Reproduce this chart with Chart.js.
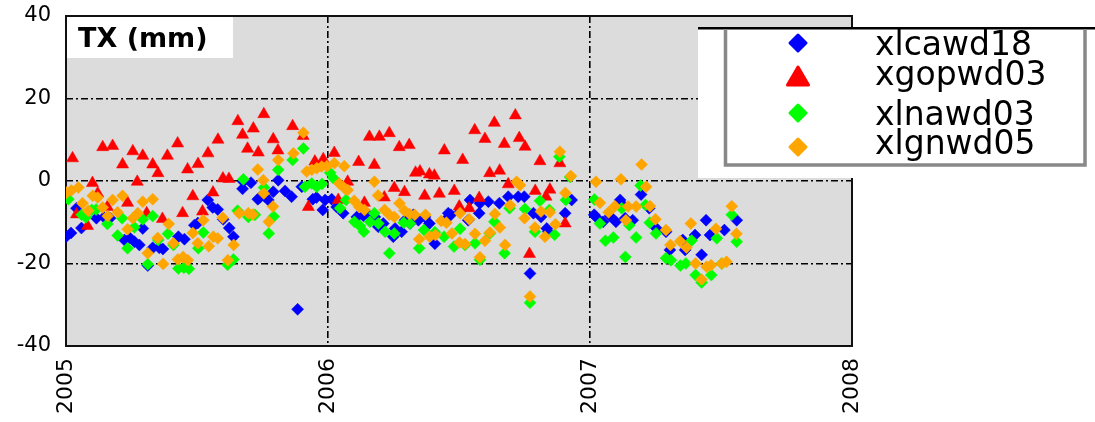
<!DOCTYPE html>
<html>
<head>
<meta charset="utf-8">
<title>TX (mm)</title>
<script src="https://cdn.jsdelivr.net/npm/chart.js@4/dist/chart.umd.min.js"></script>
<style>
  html, body { margin: 0; padding: 0; background: #ffffff; }
  canvas { display: block; }
</style>
</head>
<body>
<canvas id="tx" width="1095" height="422"></canvas>
<script>
// Station names (legend order)
const stationNames = ['xlcawd18', 'xgopwd03', 'xlnawd03', 'xlgnwd05'];

// Axis ticks
const yearTicks = [2005, 2006, 2007, 2008];
const txTicks = [40, 20, 0, -20, -40];

// xlcawd18 : epoch (decimal year) and TX (mm)
const xlcawd18Dates = [
  2005.000,2005.019,2005.040,2005.059,2005.116,2005.145,2005.168,2005.223,2005.244,2005.261,
  2005.280,2005.293,2005.312,2005.331,2005.356,2005.370,2005.429,2005.452,2005.490,2005.503,
  2005.541,2005.560,2005.579,2005.600,2005.623,2005.639,2005.674,2005.677,2005.706,2005.732,
  2005.740,2005.760,2005.772,2005.791,2005.810,2005.836,2005.861,2005.884,2005.900,2005.942,
  2005.956,2005.980,2005.989,2006.014,2006.033,2006.058,2006.110,2006.135,2006.154,2006.179,
  2006.192,2006.211,2006.249,2006.256,2006.281,2006.294,2006.313,2006.326,2006.345,2006.370,
  2006.387,2006.408,2006.447,2006.459,2006.469,2006.504,2006.535,2006.542,2006.577,2006.580,
  2006.612,2006.654,2006.688,2006.726,2006.749,2006.771,2006.784,2006.813,2006.835,2006.841,
  2006.905,2006.930,2007.016,2007.023,2007.050,2007.076,2007.099,2007.115,2007.125,2007.134,
  2007.163,2007.195,2007.226,2007.254,2007.290,2007.305,2007.354,2007.363,2007.401,2007.426,
  2007.443,2007.458,2007.513,2007.560
];
const xlcawd18Tx = [
  -13.5,-12.6,-6.6,-11.4,-9.0,-8.8,-9.0,-14.3,-13.8,-14.7,
  -15.5,-11.5,-20.5,-16.2,-16.2,-16.5,-13.5,-14.1,-10.7,-10.2,
  -4.6,-6.4,-6.9,-9.3,-11.4,-13.5,-1.9,-0.2,-0.4,-4.4,
  -4.0,-3.8,-4.6,-2.6,0.2,-2.4,-3.8,-31.1,-1.4,-4.4,
  -4.0,-7.0,-4.6,-4.4,-6.3,-7.8,-8.7,-8.4,-8.2,-8.7,
  -11.1,-10.3,-13.5,-11.5,-12.3,-9.5,-10.3,-8.2,-9.5,-8.7,
  -10.3,-15.2,-9.5,-7.8,-8.2,-7.4,-9.5,-4.6,-7.8,-5.4,
  -5.0,-5.4,-3.8,-3.8,-3.8,-22.4,-7.8,-8.7,-11.5,-12.3,
  -7.8,-4.6,-8.2,-8.7,-9.9,-8.5,-9.9,-4.6,-5.8,-9.0,
  -9.5,-3.3,-6.6,-11.5,-12.3,-16.7,-14.3,-16.7,-13.1,-17.9,
  -9.5,-13.1,-11.9,-9.5
];

// xgopwd03
const xgopwd03Dates = [
  2005.025,2005.040,2005.082,2005.101,2005.121,2005.140,2005.158,2005.178,2005.216,2005.235,
  2005.255,2005.272,2005.293,2005.308,2005.331,2005.351,2005.368,2005.387,2005.426,2005.445,
  2005.464,2005.484,2005.504,2005.521,2005.542,2005.561,2005.580,2005.599,2005.622,2005.656,
  2005.674,2005.693,2005.715,2005.734,2005.755,2005.791,2005.809,2005.865,2005.905,2005.925,
  2005.950,2005.982,2006.024,2006.039,2006.075,2006.117,2006.139,2006.158,2006.177,2006.196,
  2006.215,2006.234,2006.253,2006.272,2006.292,2006.310,2006.334,2006.351,2006.369,2006.387,
  2006.406,2006.425,2006.444,2006.482,2006.501,2006.514,2006.539,2006.560,2006.577,2006.599,
  2006.617,2006.635,2006.655,2006.673,2006.688,2006.715,2006.730,2006.752,2006.769,2006.791,
  2006.809,2006.832,2006.847,2006.885,2006.905
];
const xgopwd03Tx = [
  5.5,-8.1,-10.9,-0.5,-3.0,8.2,-6.3,8.5,4.0,-5.3,
  7.2,-0.2,6.1,-7.8,4.0,1.9,-9.2,6.1,9.1,-7.8,
  2.8,-3.7,4.1,-7.4,6.7,-2.8,10.0,0.6,0.5,14.5,
  11.2,7.8,12.7,6.9,16.2,10.1,7.4,13.3,10.9,-6.3,
  4.7,5.3,6.8,-4.6,-0.2,4.6,-5.3,10.7,3.9,10.7,
  -4.0,11.6,-1.7,8.2,-2.7,8.7,2.0,2.3,-3.6,1.6,
  1.3,-3.1,7.4,-2.4,-6.2,5.1,-6.6,12.3,-4.1,10.2,
  1.9,14.1,2.5,9.0,-0.8,15.9,10.4,8.3,-17.7,-2.4,
  4.8,-3.8,-2.1,4.3,-10.3
];

// xlnawd03
const xlnawd03Dates = [
  2005.000,2005.009,2005.060,2005.076,2005.098,2005.115,2005.158,2005.197,2005.214,2005.235,
  2005.261,2005.293,2005.312,2005.331,2005.352,2005.389,2005.410,2005.429,2005.450,2005.469,
  2005.505,2005.524,2005.617,2005.639,2005.655,2005.677,2005.696,2005.721,2005.756,2005.774,
  2005.793,2005.810,2005.865,2005.906,2005.912,2005.938,2005.957,2005.977,2006.008,2006.020,
  2006.046,2006.069,2006.101,2006.122,2006.137,2006.160,2006.177,2006.192,2006.218,2006.234,
  2006.253,2006.289,2006.313,2006.348,2006.366,2006.408,2006.443,2006.481,2006.504,2006.523,
  2006.561,2006.580,2006.618,2006.635,2006.674,2006.693,2006.752,2006.771,2006.790,2006.809,
  2006.845,2006.865,2006.883,2006.908,2006.924,2007.017,2007.038,2007.059,2007.089,2007.121,
  2007.135,2007.150,2007.176,2007.193,2007.212,2007.228,2007.252,2007.290,2007.309,2007.345,
  2007.366,2007.388,2007.403,2007.426,2007.463,2007.484,2007.503,2007.541,2007.560
];
const xlnawd03Tx = [
  -4.0,-4.4,-8.2,-8.8,-7.0,-6.9,-10.4,-13.2,-9.0,-16.3,
  -11.2,-9.3,-20.2,-8.5,-14.3,-12.8,-15.5,-21.2,-21.0,-21.3,
  -16.3,-12.5,-20.3,-19.0,-7.2,0.4,-8.7,-8.2,-1.6,-12.7,
  -8.6,2.7,5.1,7.9,-1.4,-0.6,-1.4,-0.7,2.0,0.7,
  -6.6,-4.6,-9.9,-10.9,-12.3,-9.9,-7.8,-10.3,-12.3,-17.5,
  -12.7,-10.1,-10.3,-16.3,-11.9,-12.4,-13.5,-15.9,-11.6,-15.5,
  -15.1,-19.1,-12.7,-9.9,-17.5,-6.6,-6.8,-29.5,-12.3,-4.8,
  -7.0,-13.0,5.9,-4.6,1.0,-4.5,-10.3,-14.5,-13.7,-6.6,
  -18.4,-10.7,-13.7,-1.1,-5.8,-10.1,-12.7,-18.7,-19.2,-20.5,
  -20.0,-14.4,-22.8,-24.6,-22.8,-13.9,-20.0,-8.2,-14.7
];

// xlgnwd05
const xlgnwd05Dates = [
  2005.002,2005.020,2005.047,2005.063,2005.085,2005.102,2005.121,2005.140,2005.159,2005.178,
  2005.197,2005.216,2005.235,2005.255,2005.274,2005.293,2005.312,2005.331,2005.350,2005.371,
  2005.392,2005.410,2005.427,2005.447,2005.465,2005.484,2005.503,2005.524,2005.545,2005.562,
  2005.579,2005.598,2005.618,2005.640,2005.661,2005.696,2005.713,2005.732,2005.753,2005.755,
  2005.774,2005.790,2005.810,2005.868,2005.906,2005.919,2005.938,2005.957,2005.976,2005.996,
  2006.024,2006.043,2006.062,2006.064,2006.075,2006.100,2006.119,2006.139,2006.177,2006.191,
  2006.216,2006.234,2006.253,2006.273,2006.292,2006.311,2006.331,2006.348,2006.372,2006.388,
  2006.410,2006.432,2006.452,2006.473,2006.502,2006.504,2006.523,2006.539,2006.561,2006.580,
  2006.599,2006.618,2006.637,2006.656,2006.676,2006.695,2006.720,2006.733,2006.750,2006.771,
  2006.790,2006.813,2006.828,2006.847,2006.868,2006.885,2006.906,2006.927,2007.023,2007.038,
  2007.071,2007.095,2007.118,2007.137,2007.145,2007.176,2007.197,2007.214,2007.229,2007.250,
  2007.290,2007.307,2007.344,2007.368,2007.385,2007.403,2007.426,2007.445,2007.462,2007.481,
  2007.503,2007.521,2007.541,2007.559
];
const xlgnwd05Tx = [
  -2.8,-2.3,-1.6,-5.4,-7.2,-3.6,-4.0,-6.4,-8.5,-4.6,
  -7.6,-3.6,-11.7,-9.0,-7.8,-5.0,-17.5,-4.4,-13.8,-20.1,
  -10.4,-15.1,-19.0,-18.4,-19.2,-12.6,-15.1,-9.5,-15.8,-13.5,
  -13.9,-8.9,-19.2,-15.5,-7.8,-7.8,-8.1,2.8,0.2,-3.0,
  -9.9,-6.2,5.1,6.7,11.7,2.3,2.7,3.1,3.5,3.6,
  4.3,-0.6,3.6,-1.8,-2.2,-4.8,-6.3,-7.0,-0.2,-3.5,
  -7.0,-8.2,-8.7,-5.4,-7.2,-8.0,-8.2,-14.1,-8.2,-13.5,
  -13.1,-9.7,-10.1,-12.7,-14.9,-7.8,-15.3,-9.3,-12.8,-18.5,
  -14.5,-12.5,-8.0,-11.3,-15.5,-5.9,-0.2,-1.0,-9.0,-28.0,
  -11.3,-7.4,-13.5,-7.6,-10.5,7.1,-2.9,1.2,-0.2,-5.3,
  -7.6,-6.1,0.4,-9.5,-6.2,-6.2,4.0,-1.4,-6.1,-9.3,
  -11.9,-15.5,-14.6,-16.1,-10.3,-20.0,-23.9,-20.8,-20.4,-11.6,
  -20.0,-19.6,-6.1,-12.8
];

const seriesColors = ['#0000ff', '#ff0000', '#00ff00', '#ffa500'];
const seriesStyles = ['rectRot', 'triangle', 'rectRot', 'rectRot'];

function points(dates, values) {
  return dates.map((d, i) => ({ x: d, y: values[i] }));
}

const seriesData = [
  points(xlcawd18Dates, xlcawd18Tx),
  points(xgopwd03Dates, xgopwd03Tx),
  points(xlnawd03Dates, xlnawd03Tx),
  points(xlgnwd05Dates, xlgnwd05Tx)
];

// later series are painted over earlier ones
const datasets = seriesData.map((data, i) => ({
  label: stationNames[i],
  data,
  pointStyle: seriesStyles[i],
  pointRadius: seriesStyles[i] === 'triangle' ? 7 : 6,
  pointBackgroundColor: seriesColors[i],
  pointBorderColor: seriesColors[i],
  pointBorderWidth: 0.5,
  order: seriesData.length - 1 - i
}));

const FONT = "'DejaVu Sans', 'Liberation Sans', sans-serif";

// grey plot background and black frame
const plotFrame = {
  id: 'plotFrame',
  beforeDraw(chart) {
    const { ctx, chartArea: a } = chart;
    ctx.save();
    ctx.fillStyle = '#dcdcdc';
    ctx.fillRect(a.left, a.top, a.right - a.left, a.bottom - a.top);
    ctx.restore();
  },
  beforeDatasetsDraw(chart) {
    const { ctx, chartArea: a } = chart;
    ctx.save();
    ctx.strokeStyle = '#111111';
    ctx.lineWidth = 2;
    ctx.strokeRect(a.left, a.top, a.right - a.left, a.bottom - a.top);
    ctx.restore();
  }
};

// "TX (mm)" label box in the upper-left corner of the plot
const titleBox = {
  id: 'titleBox',
  afterDraw(chart) {
    const { ctx, chartArea: a } = chart;
    ctx.save();
    ctx.fillStyle = '#ffffff';
    ctx.fillRect(a.left + 1, a.top + 1, 166, 41);
    ctx.fillStyle = '#000000';
    ctx.font = "bold 27px " + FONT;
    ctx.textBaseline = 'alphabetic';
    ctx.textAlign = 'left';
    ctx.fillText('TX (mm)', a.left + 12, a.top + 31);
    ctx.restore();
  }
};

function drawMarker(ctx, style, x, y, color) {
  ctx.save();
  ctx.fillStyle = color;
  ctx.strokeStyle = color;
  ctx.lineJoin = 'round';
  ctx.lineWidth = 3;
  ctx.beginPath();
  if (style === 'triangle') {
    ctx.moveTo(x, y - 10);
    ctx.lineTo(x + 10.5, y + 8);
    ctx.lineTo(x - 10.5, y + 8);
  } else {
    ctx.moveTo(x, y - 8);
    ctx.lineTo(x + 8, y);
    ctx.lineTo(x, y + 8);
    ctx.lineTo(x - 8, y);
  }
  ctx.closePath();
  ctx.fill();
  ctx.stroke();
  ctx.restore();
}

// station legend panel at the top right
const stationLegend = {
  id: 'stationLegend',
  afterDraw(chart) {
    const { ctx } = chart;
    ctx.save();
    ctx.fillStyle = '#ffffff';
    ctx.fillRect(698, 28, 397, 150);
    ctx.fillStyle = '#000000';
    ctx.fillRect(698, 27, 397, 2.5);
    ctx.strokeStyle = '#888888';
    ctx.lineWidth = 3.5;
    ctx.beginPath();
    ctx.moveTo(725.5, 29);
    ctx.lineTo(725.5, 165);
    ctx.lineTo(1085, 165);
    ctx.lineTo(1085, 29);
    ctx.stroke();

    const markerY = [43, 77, 113, 147];
    const textY = [55, 85, 125, 154];
    ctx.font = "33px " + FONT;
    ctx.textAlign = 'left';
    ctx.textBaseline = 'alphabetic';
    chart.data.datasets.forEach((ds, i) => {
      drawMarker(ctx, seriesStyles[i], 798, markerY[i], seriesColors[i]);
      ctx.fillStyle = '#000000';
      ctx.fillText(ds.label, 875, textY[i]);
    });
    ctx.restore();
  }
};

const isEdge = (v, lo, hi) => v === lo || v === hi;

new Chart(document.getElementById('tx'), {
  type: 'scatter',
  data: { datasets },
  options: {
    responsive: false,
    devicePixelRatio: 1,
    animation: false,
    events: [],
    layout: { padding: { left: 0, top: 16, right: 243, bottom: 0 } },
    plugins: { legend: { display: false }, tooltip: { enabled: false }, title: { display: false } },
    scales: {
      x: {
        type: 'linear',
        min: yearTicks[0],
        max: yearTicks[yearTicks.length - 1],
        afterBuildTicks(scale) { scale.ticks = yearTicks.map(v => ({ value: v })); },
        afterFit(scale) { scale.height = 76; },
        ticks: {
          autoSkip: false,
          minRotation: 90,
          maxRotation: 90,
          padding: 12,
          color: '#000000',
          font: { family: FONT, size: 22 },
          callback: v => String(v)
        },
        grid: {
          drawTicks: false,
          lineWidth: 1.6,
          color: c => (c.tick && isEdge(c.tick.value, 2005, 2008)) ? 'rgba(0,0,0,0)' : '#000000'
        },
        border: { display: false, dash: [7, 3, 2, 3] }
      },
      y: {
        type: 'linear',
        min: -40,
        max: 40,
        afterBuildTicks(scale) { scale.ticks = txTicks.slice().reverse().map(v => ({ value: v })); },
        afterFit(scale) {
          scale.width = 66;
          // the end labels may overhang the plot edges
          scale.paddingTop = 0;
          scale.paddingBottom = 0;
        },
        ticks: {
          padding: 15,
          color: '#000000',
          font: { family: FONT, size: 21 },
          callback: v => String(v)
        },
        grid: {
          drawTicks: false,
          lineWidth: 1.6,
          color: c => (c.tick && isEdge(c.tick.value, -40, 40)) ? 'rgba(0,0,0,0)' : '#000000'
        },
        border: { display: false, dash: [7, 3, 2, 3] }
      }
    }
  },
  plugins: [plotFrame, titleBox, stationLegend]
});
</script>
</body>
</html>
